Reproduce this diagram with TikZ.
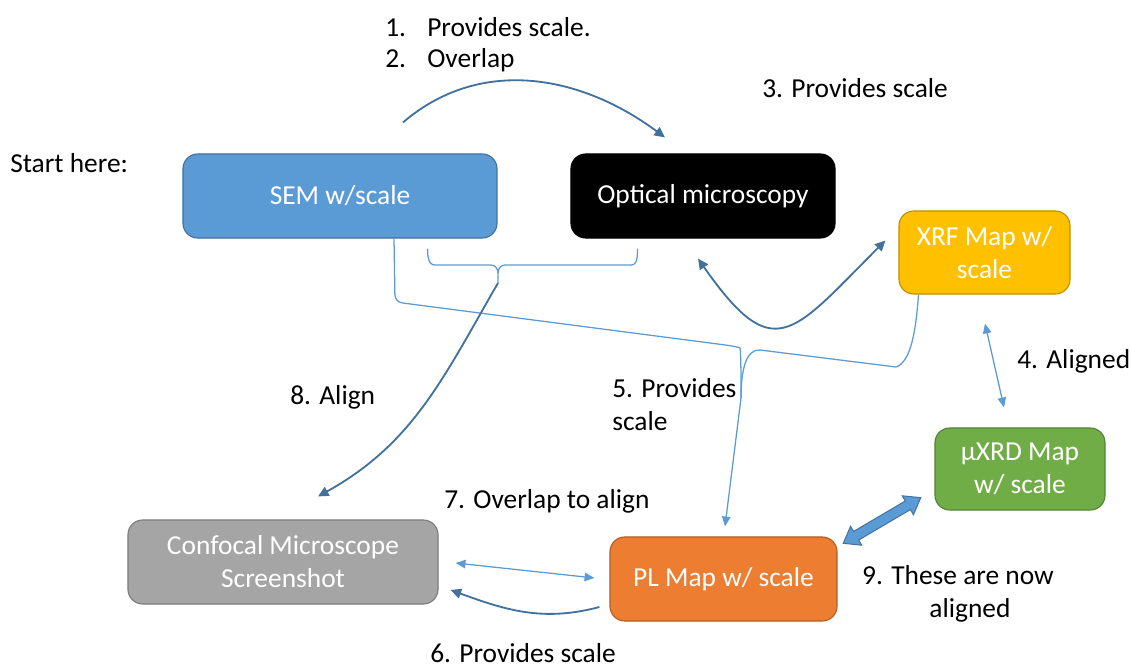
\documentclass[tikz,border=0pt]{standalone}
\usepackage{fontspec}
\setmainfont{Carlito}
\usetikzlibrary{arrows.meta,calc}
\definecolor{semblue}{HTML}{5B9BD5}
\definecolor{darkblue}{HTML}{41719C}
\definecolor{xrfgold}{HTML}{FFC000}
\definecolor{xrdgreen}{HTML}{70AD47}
\definecolor{plorange}{HTML}{ED7D31}
\definecolor{confgrey}{HTML}{A5A5A5}

\begin{document}
\begin{tikzpicture}[
  x=0.025cm, y=-0.025cm,
  every node/.style={font=\fontsize{19.5}{23.5}\selectfont, inner sep=0pt},
  box/.style={draw, rounded corners=0.37cm, line width=0.8pt, minimum height=2.1cm,
  align=center, text=white},
  lbl/.style={anchor=west, align=left},
  dtip/.tip={Triangle[length=7.5pt,width=7pt]},
  ltip/.tip={Triangle[length=7pt,width=6pt]},
  dk/.style={draw=darkblue, line width=1.3pt, -dtip},
  lt/.style={draw=semblue, line width=0.9pt}
]
\useasboundingbox (0,0) rectangle (1131,668);

\node[box, fill=semblue, draw=darkblue, minimum width=7.85cm] (sem) at (340,196) {SEM w/scale};
\node[box, fill=black, minimum width=6.6cm] (opt) at (703,196) {Optical microscopy};
\node[box, fill=xrfgold, draw=xrfgold!75!black, minimum width=4.275cm, minimum height=2.075cm]
  (xrf) at (984.5,252.5) {XRF Map w/\\scale};
\node[box, fill=xrdgreen, draw=xrdgreen!75!black, minimum width=4.25cm, minimum height=2.05cm]
  (xrd) at (1020,469) {µXRD Map\\w/ scale};
\node[box, fill=plorange, draw=plorange!75!black, minimum width=5.675cm] (pl) at (723.5,579) {PL Map w/ scale};
\node[box, fill=confgrey, draw=confgrey!75!black, minimum width=7.75cm] (conf) at (283,562)
  {Confocal Microscope\\Screenshot};

% labels
\node[lbl] (l1) at (385,27) {\makebox[1.05cm][l]{1.}Provides scale.};
\node[lbl] (l2) at (385,60) {\makebox[1.05cm][l]{2.}Overlap};
\node[lbl] (l3) at (762,88) {3. Provides scale};
\node[lbl] (start) at (10,163) {Start here:};
\node[lbl] (l4) at (1017,361) {4. Aligned};
\node[lbl] (l5) at (612,405) {5. Provides\\scale};
\node[lbl] (l8) at (290,397) {8. Align};
\node[lbl] (l7) at (444,501) {7. Overlap to align};
\node[align=center] (l9) at (958,594) {9. These are now\\\hspace*{0.6cm}aligned};
\node[lbl] (l6) at (430,653) {6. Provides scale};

% braces
\coordinate (btip) at (498,283);
\coordinate (ctip) at (741,398);
\draw[lt] ($(sem.south east)+(-70,10)$) to[out=-90,in=180] (435,265) -- (491,265)
  to[out=0,in=90] (498,273) -- (btip);
\draw[lt] (498,273) to[out=90,in=180] (505,265) -- (631,265)
  to[out=0,in=-90] ($(opt.south west)+(67,10)$);
\draw[lt, rounded corners=5] ($(sem.south)+(54,0)$) -- (395,302) -- (733,346)
  .. controls (741,348) and (741,380) .. (ctip);
\draw[lt] (ctip) .. controls (741,370) and (746,349) .. (760,350) -- (896,367)
  .. controls (911,362) and (916,330) .. ($(xrf.south)+(-66,0)$);

% connectors
\draw[dk] ($(sem.north)+(63,-31)$) .. controls +(77,-66) and +(-85,-63) .. ($(opt.north)+(-38,-16)$);
\draw[dk, dtip-dtip] ($(opt.south)+(-5,20)$) to[out=-55,in=225,looseness=1.8] ($(xrf.west)+(-13,-12)$);
\draw[dk] (btip) to[out=240,in=29] ($(conf.north)+(35,-23)$);
\draw[dk] ($(pl.west)+(-10,28)$) to[out=195,in=-20] ($(conf.east)+(12,28)$);
\draw[lt, -ltip] (ctip) -- ($(pl.north)+(1.5,-10)$);
\draw[lt, ltip-ltip] ($(xrf.south)+(0.5,29)$) -- ($(xrd.north)+(-16,-20)$);
\draw[lt, ltip-ltip] ($(conf.east)+(17,1)$) -- ($(pl.west)+(-15,-1)$);

% block arrow
\begin{scope}[shift={($(pl.north east)!0.5!(xrd.south west)+(-4,-3)$)}, rotate=30.5]
\draw[fill=semblue, draw=darkblue, line width=0.7pt] (-45,0) -- (-30,11) -- (-30,5) -- (30,5)
  -- (30,11) -- (45,0) -- (30,-11) -- (30,-5) -- (-30,-5) -- (-30,-11) -- cycle;
\end{scope}

\end{tikzpicture}
\end{document}
